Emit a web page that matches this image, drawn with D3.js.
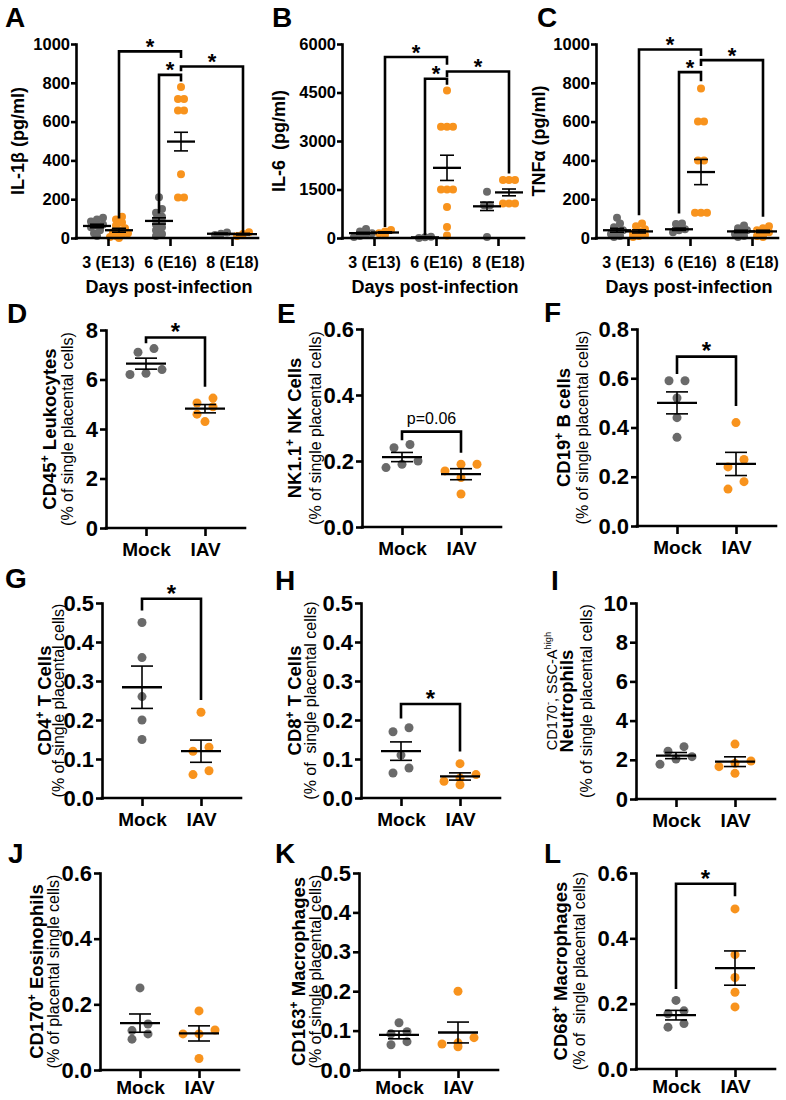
<!DOCTYPE html>
<html>
<head>
<meta charset="utf-8">
<script src="https://cdn.jsdelivr.net/npm/d3@7"></script>
<style>
  body { margin: 0; background: #fff; }
  svg  { font-family: "Liberation Sans", Arial, sans-serif; }
  .axis path, .axis line { stroke: #000; stroke-width: 2.6; }
  .axis path { stroke-linecap: square; }
  .axis text { font-weight: bold; fill: #000; }
  .bracket   { fill: none; stroke: #000; stroke-width: 2.6; }
  .meanLine  { stroke: #000; stroke-width: 2.3; }
  .semLine   { stroke: #000; stroke-width: 1.6; }
</style>
</head>
<body>
<svg id="fig" width="786" height="1100"></svg>
<script>
var grey   = "#6a6a6a",
    orange = "#f8931d"

var days       = ["3 (E13)", "6 (E16)", "8 (E18)"]
var treatments = ["Mock", "IAV"]

// ---- Cytokines (top row), one list of points per day ----
var il1bMock = [[105, 95, 85, 70, 65, 55, 40, 25, 10],
                [210, 150, 130, 110, 95, 85, 70, 55, 40, 20, 10],
                [28, 22, 15]]
var il1bIAV  = [[110, 95, 80, 65, 50, 40, 30, 25, 15, 10, 5, 0],
                [778, 716, 716, 657, 657, 329, 209, 209],
                [30, 20, 10]]
var il1bMean = [[62, 40], [88, 497], [22, 20]]   // [Mock, IAV] per day
var il1bSem  = [[9, 10], [16, 48], [3, 4]]

var il6Mock  = [[280, 200, 150, 100, 60, 30],
                [40, 20, 0],
                [1430, 1010, 1010, 30]]
var il6IAV   = [[250, 200, 150, 100],
                [4560, 3440, 3440, 3440, 1500, 1500, 1500, 960, 340, 80],
                [1790, 1790, 1790, 1065, 1065, 1065]]
var il6Mean  = [[150, 170], [20, 2170], [980, 1410]]
var il6Sem   = [[25, 20], [5, 390], [130, 105]]

var tnfMock  = [[105, 75, 55, 40, 30, 20, 10, 5],
                [75, 72, 45, 40, 30],
                [65, 50, 40, 30, 20, 10, 5]]
var tnfIAV   = [[75, 60, 45, 35, 25, 15, 10, 5],
                [770, 600, 600, 400, 400, 130, 130, 130],
                [60, 50, 40, 30, 20, 10, 5]]
var tnfMean  = [[40, 34], [45, 340], [34, 34]]
var tnfSem   = [[10, 8], [6, 65], [6, 6]]

// Significance brackets: a/b = [day, treatment], level and leg ends in data units
var il1bSig = [{ a: [0, 1], b: [1, 1], level: 962,  endA: 100,  endB: 928 },
               { a: [1, 0], b: [1, 1], level: 841,  endA: 126,  endB: 807 },
               { a: [1, 1], b: [2, 1], level: 884,  endA: 859,  endB: 22 }]
var il6Sig  = [{ a: [0, 1], b: [1, 1], level: 5597, endA: 340,  endB: 5358 },
               { a: [1, 0], b: [1, 1], level: 4924, endA: 83,   endB: 4738 },
               { a: [1, 1], b: [2, 1], level: 5151, endA: 4976, endB: 1997 }]
var tnfSig  = [{ a: [0, 1], b: [1, 1], level: 972,  endA: 117,  endB: 938 },
               { a: [1, 0], b: [1, 1], level: 855,  endA: 126,  endB: 808 },
               { a: [1, 1], b: [2, 1], level: 917,  endA: 886,  endB: 109 }]

// ---- Placental cell populations (% of single placental cells) ----
var cd45Mock  = [7.25, 7.1, 6.4, 6.25, 6.2],      cd45IAV  = [5.25, 5.05, 4.9, 4.6, 4.3]
var nkMock    = [0.25, 0.24, 0.20, 0.19, 0.18],   nkIAV    = [0.19, 0.19, 0.17, 0.15, 0.10]
var cd19Mock  = [0.59, 0.59, 0.52, 0.44, 0.36],   cd19IAV  = [0.42, 0.27, 0.24, 0.18, 0.15]
var cd4Mock   = [0.45, 0.36, 0.26, 0.20, 0.15],   cd4IAV   = [0.22, 0.13, 0.12, 0.07, 0.06]
var cd8Mock   = [0.18, 0.17, 0.11, 0.077, 0.064], cd8IAV   = [0.088, 0.060, 0.051, 0.043, 0.034]
var neutMock  = [2.67, 2.44, 2.16, 2.04, 1.77],   neutIAV  = [2.8, 1.94, 1.82, 1.65, 1.31]
var eosMock   = [0.25, 0.14, 0.12, 0.11, 0.094],  eosIAV   = [0.18, 0.122, 0.11, 0.11, 0.035]
var cd163Mock = [0.12, 0.097, 0.092, 0.072, 0.064], cd163IAV = [0.20, 0.082, 0.069, 0.066, 0.059]
var cd68Mock  = [0.21, 0.178, 0.169, 0.139, 0.128], cd68IAV  = [0.49, 0.35, 0.28, 0.235, 0.19]

// Mock vs IAV brackets: level, Mock leg end, IAV leg end
var cd45Sig = { level: 7.7,   endA: 7.46,  endB: 5.71,  label: "*" }
var nkSig   = { level: 0.289, endA: 0.263, endB: 0.225, label: "p=0.06" }
var cd19Sig = { level: 0.688, endA: 0.617, endB: 0.487, label: "*" }
var cd4Sig  = { level: 0.511, endA: 0.481, endB: 0.251, label: "*" }
var cd8Sig  = { level: 0.241, endA: 0.204, endB: 0.119, label: "*" }
var cd68Sig = { level: 0.567, endA: 0.245, endB: 0.529, label: "*" }

var svg = d3.select("#fig")

// Spread points that sit close together into side-by-side rows (GraphPad style)
function swarm (values, y, gap, near) {
  var pts  = values.map(function (v) { return { v: v, y: y(v) } })
                   .sort(function (a, b) { return a.y - b.y }),
      rows = [],
      row  = null
  pts.forEach(function (p) {
    if (!row || p.y - row[0].y > near) { row = []; rows.push(row) }
    row.push(p)
  })
  rows.forEach(function (r) {
    r.sort(function (a, b) { return a.v - b.v })
    r.forEach(function (p, i) { p.dx = (i - (r.length - 1) / 2) * gap })
  })
  return pts
}

function dots (g, values, cx, y, colour, r, gap, near) {
  g.append("g").selectAll("circle")
   .data(swarm(values, y, gap, near))
   .enter().append("circle")
     .attr("cx", function (d) { return cx + d.dx })
     .attr("cy", function (d) { return d.y })
     .attr("r", r)
     .style("fill", colour)
}

// Mean line with SEM whiskers
function meanSem (g, cx, mean, sem, y, hw, cw) {
  g.append("line").attr("class", "semLine")
   .attr("x1", cx).attr("x2", cx).attr("y1", y(mean - sem)).attr("y2", y(mean + sem))
  ;[mean - sem, mean + sem].forEach(function (v) {
    g.append("line").attr("class", "semLine")
     .attr("x1", cx - cw).attr("x2", cx + cw).attr("y1", y(v)).attr("y2", y(v))
  })
  g.append("line").attr("class", "meanLine")
   .attr("x1", cx - hw).attr("x2", cx + hw).attr("y1", y(mean)).attr("y2", y(mean))
}

function bracket (g, xa, xb, s, y, star) {
  var yl = y(s.level)
  g.append("path").attr("class", "bracket")
   .attr("d", "M" + xa + "," + y(s.endA) + "V" + yl + "H" + xb + "V" + y(s.endB))
  var t = g.append("text")
           .attr("x", (xa + xb) / 2)
           .attr("text-anchor", "middle")
           .text(s.label || "*")
  if ((s.label || "*") === "*") {
    t.attr("y", yl + star * 0.12).style("font-size", star + "px").style("font-weight", "bold")
  } else {
    t.attr("y", yl - 8).style("font-size", "16px")
  }
}

// Rotated axis title; parts are strings or {sup: "..."}
function vTitle (g, x, yMid, parts, size, weight) {
  var t = g.append("text")
           .attr("transform", "translate(" + (x + size * 0.35) + "," + yMid + ") rotate(-90)")
           .attr("text-anchor", "middle")
           .style("font-size", size + "px")
           .style("font-weight", weight)
           .style("white-space", "pre"),
      up = false
  parts.forEach(function (p) {
    var s = t.append("tspan")
    if (typeof p === "string") {
      if (up) s.attr("dy", size * 0.4)
      up = false
      s.text(p)
    } else {
      s.attr("dy", -size * 0.4).style("font-size", (size * 0.65) + "px").text(p.sup)
      up = true
    }
  })
}

function letter (l, x, y) {
  svg.append("text").attr("x", x).attr("y", y)
     .style("font-size", "28px").style("font-weight", "bold")
     .text(l)
}

function styleAxis (sel, size) {
  sel.attr("font-size", null).attr("font-family", null)
     .selectAll("text").style("font-size", size + "px")
}

// ---- Top row ----
var cytoPanels = [
  { letter: "A", lx: 5,   left: 76,  titleX: -58, title: ["IL-1β (pg/ml)"],  max: 1000, ticks: d3.range(0, 1001, 200),
    mock: il1bMock, iav: il1bIAV, mean: il1bMean, sem: il1bSem, sig: il1bSig },
  { letter: "B", lx: 272, left: 342, titleX: -63, title: ["IL-6  (pg/ml)"],  max: 6000, ticks: d3.range(0, 6001, 1500),
    mock: il6Mock,  iav: il6IAV,  mean: il6Mean,  sem: il6Sem,  sig: il6Sig },
  { letter: "C", lx: 537, left: 596, titleX: -57, title: ["TNFα (pg/ml)"],   max: 1000, ticks: d3.range(0, 1001, 200),
    mock: tnfMock,  iav: tnfIAV,  mean: tnfMean,  sem: tnfSem,  sig: tnfSig }
]

cytoPanels.forEach(function (p) {
  var top = 44, h = 194, w = 182,
      g   = svg.append("g").attr("transform", "translate(" + p.left + "," + top + ")"),
      y   = d3.scaleLinear().domain([0, p.max]).range([h, 0]),
      x   = d3.scalePoint().domain(days).range([32, 156]),
      sub = d3.scalePoint().domain(treatments).range([-11, 11]),
      pos = function (k) { return x(days[k[0]]) + sub(treatments[k[1]]) }

  letter(p.letter, p.lx, 27)

  days.forEach(function (d, i) {
    dots(g, p.mock[i], x(d) + sub("Mock"), y, grey,   4, 6, 4)
    dots(g, p.iav[i],  x(d) + sub("IAV"),  y, orange, 4, 6, 4)
    meanSem(g, x(d) + sub("Mock"), p.mean[i][0], p.sem[i][0], y, 14, 7)
    meanSem(g, x(d) + sub("IAV"),  p.mean[i][1], p.sem[i][1], y, 14, 7)
  })

  p.sig.forEach(function (s) { bracket(g, pos(s.a), pos(s.b), s, y, 22) })

  g.append("g").attr("class", "axis")
   .call(d3.axisLeft(y).tickValues(p.ticks).tickFormat(d3.format("d"))
                       .tickSize(5).tickPadding(1).tickSizeOuter(0))
   .call(styleAxis, 16.5)

  var xa = g.append("g").attr("class", "axis")
            .attr("transform", "translate(0," + h + ")")
            .call(d3.axisBottom(x).tickSize(8).tickPadding(11).tickSizeOuter(0))
            .call(styleAxis, 16)
  xa.select(".domain").attr("d", "M0,0H" + w)

  g.append("text")
   .attr("x", 93).attr("y", 249)
   .attr("text-anchor", "middle")
   .style("font-size", "18px").style("font-weight", "bold")
   .text("Days post-infection")

  vTitle(g, p.titleX, h / 2, p.title, 18, "bold")
})

// ---- Mock vs IAV panels ----
var sub1 = "(% of single placental cells)",
    sub2 = "(% of  single placental cells)"

var cellPanels = [
  { letter: "D", lx: 7,   ly: 323, left: 106, top: 330, bottom: 528, max: 8,   step: 2,   fmt: d3.format("d"),
    title: ["CD45", { sup: "+" }, " Leukocytes"],   tX: -56, sX: -39, sub: sub1, mock: cd45Mock, iav: cd45IAV, sig: cd45Sig },
  { letter: "E", lx: 277, ly: 323, left: 362, top: 329, bottom: 527, max: 0.6, step: 0.2, fmt: d3.format(".1f"),
    title: ["NK1.1", { sup: "+" }, " NK Cells"],    tX: -67, sX: -47, sub: sub1, mock: nkMock,   iav: nkIAV,   sig: nkSig },
  { letter: "F", lx: 544, ly: 322, left: 637, top: 329, bottom: 526, max: 0.8, step: 0.2, fmt: d3.format(".1f"),
    title: ["CD19", { sup: "+" }, " B cells"],      tX: -73, sX: -55, sub: sub1, mock: cd19Mock, iav: cd19IAV, sig: cd19Sig },
  { letter: "G", lx: 5,   ly: 588, left: 102, top: 603, bottom: 798, max: 0.5, step: 0.1, fmt: d3.format(".1f"),
    title: ["CD4", { sup: "+" }, " T Cells"],       tX: -57, sX: -44, sub: sub1, mock: cd4Mock,  iav: cd4IAV,  sig: cd4Sig },
  { letter: "H", lx: 275, ly: 590, left: 361, top: 603, bottom: 798, max: 0.5, step: 0.1, fmt: d3.format(".1f"),
    title: ["CD8", { sup: "+" }, " T Cells"],       tX: -66, sX: -51, sub: sub2, mock: cd8Mock,  iav: cd8IAV,  sig: cd8Sig },
  { letter: "I", lx: 551, ly: 590, left: 636, top: 603, bottom: 799, max: 10,  step: 2,   fmt: d3.format("d"),
    title: ["Neutrophils"],                         tX: -69, sX: -50, sub: sub1, mock: neutMock, iav: neutIAV,
    pre: ["CD170", { sup: "-" }, ", SSC-A", { sup: "high" }], pX: -84 },
  { letter: "J", lx: 8,   ly: 863, left: 100, top: 873, bottom: 1070, max: 0.6, step: 0.2, fmt: d3.format(".1f"),
    title: ["CD170", { sup: "+" }, " Eosinophils"], tX: -63, sX: -47, sub: "(% of placental single cells)", mock: eosMock, iav: eosIAV },
  { letter: "K", lx: 275, ly: 863, left: 359, top: 873, bottom: 1070, max: 0.5, step: 0.1, fmt: d3.format(".1f"),
    title: ["CD163", { sup: "+" }, " Macrophages"], tX: -60, sX: -44, sub: sub1, mock: cd163Mock, iav: cd163IAV },
  { letter: "L", lx: 544, ly: 863, left: 636, top: 873, bottom: 1069, max: 0.6, step: 0.2, fmt: d3.format(".1f"),
    title: ["CD68", { sup: "+" }, " Macrophages"],  tX: -75, sX: -57, sub: sub2, mock: cd68Mock, iav: cd68IAV, sig: cd68Sig }
]

cellPanels.forEach(function (p) {
  var h = p.bottom - p.top, w = 139,
      g = svg.append("g").attr("transform", "translate(" + p.left + "," + p.top + ")"),
      y = d3.scaleLinear().domain([0, p.max]).range([h, 0]),
      x = d3.scalePoint().domain(treatments).range([40, 99])

  letter(p.letter, p.lx, p.ly)

  ;[[p.mock, "Mock", grey], [p.iav, "IAV", orange]].forEach(function (s) {
    var vals = s[0]
    dots(g, vals, x(s[1]), y, s[2], 4.5, 16, 8)
    meanSem(g, x(s[1]), d3.mean(vals), d3.deviation(vals) / Math.sqrt(vals.length), y, 20, 11)
  })

  if (p.sig) bracket(g, x("Mock"), x("IAV"), p.sig, y, 24)

  g.append("g").attr("class", "axis")
   .call(d3.axisLeft(y).tickValues(d3.range(0, p.max + p.step / 2, p.step))
                       .tickFormat(p.fmt).tickSize(6).tickPadding(2).tickSizeOuter(0))
   .call(styleAxis, 22)

  // bottom row sits on the page edge, so its labels hug the axis a little more
  var xa = g.append("g").attr("class", "axis")
            .attr("transform", "translate(0," + h + ")")
            .call(d3.axisBottom(x).tickSize(8).tickPadding(p.bottom > 1000 ? 3 : 7).tickSizeOuter(0))
            .call(styleAxis, 19)
  xa.select(".domain").attr("d", "M0,0H" + w)

  if (p.pre) vTitle(g, p.pX, h / 2 - 10, p.pre, 14.5, "normal")
  vTitle(g, p.tX, h / 2, p.title, 18.5, "bold")
  vTitle(g, p.sX, h / 2, [p.sub], 16, "normal")
})
</script>
</body>
</html>
